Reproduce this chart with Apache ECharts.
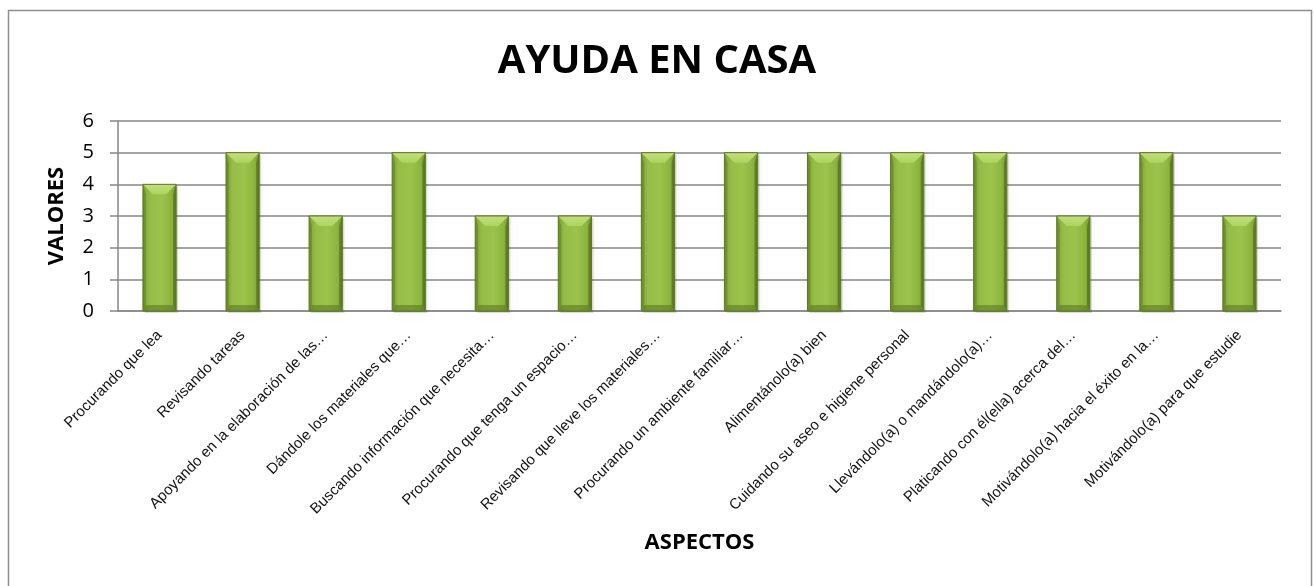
<!DOCTYPE html>
<html>
<head>
<meta charset="utf-8">
<script src="https://cdn.jsdelivr.net/npm/echarts@6/dist/echarts.min.js"></script>
<style>
html,body{margin:0;padding:0;background:#fff;}
#chart{width:1314px;height:586px;}
</style>
</head>
<body>
<div id="chart"></div>
<script>
const categories = [
  "Procurando que lea",
  "Revisando tareas",
  "Apoyando en la elaboración de las…",
  "Dándole los materiales que…",
  "Buscando información que necesita…",
  "Procurando que tenga un espacio…",
  "Revisando que lleve los materiales…",
  "Procurando un ambiente familiar…",
  "Alimentánolo(a) bien",
  "Cuidando su aseo e higiene personal",
  "Llevándolo(a) o mandándolo(a)…",
  "Platicando con él(ella) acerca del…",
  "Motivándolo(a) hacia el éxito en la…",
  "Motivándolo(a) para que estudie"
];
const values = [4, 5, 3, 5, 3, 3, 5, 5, 5, 5, 5, 3, 5, 3];
const yTicks = [0, 1, 2, 3, 4, 5, 6];

const chart = echarts.init(document.getElementById('chart'), null, {renderer: 'canvas'});

function renderBar(params, api) {
  const idx = api.value(0);
  const val = api.value(1);
  const top = api.coord([idx, val]);
  const base = api.coord([idx, 0]);
  const w = api.size([1, 0])[0] * 0.4;
  const x0 = top[0] - w / 2, x1 = top[0] + w / 2;
  const y0 = top[1], y1 = base[1];
  const h = y1 - y0;
  const b = Math.min(10, h / 3);
  const bb = Math.min(6, h / 4);
  const side = 3;
  const G = echarts.graphic;
  return {
    type: 'group',
    children: [
      { // shadow
        type: 'rect',
        shape: {x: x0 + 2, y: y0 + 2, width: w, height: h},
        style: {fill: 'rgba(0,0,0,0.12)', shadowBlur: 6, shadowColor: 'rgba(0,0,0,0.35)'},
        silent: true
      },
      { // body
        type: 'rect',
        shape: {x: x0, y: y0, width: w, height: h},
        style: {
          fill: new G.LinearGradient(0, 0, 1, 0, [
            {offset: 0, color: '#7fa336'},
            {offset: 0.2, color: '#95bd47'},
            {offset: 0.55, color: '#9cc44c'},
            {offset: 0.85, color: '#8db43f'},
            {offset: 1, color: '#76982f'}
          ])
        }
      },
      { // left facet
        type: 'polygon',
        shape: {points: [[x0, y0], [x0 + side, y0 + b], [x0 + side, y1 - bb], [x0, y1]]},
        style: {fill: 'rgba(85,115,30,0.45)'}
      },
      { // right facet
        type: 'polygon',
        shape: {points: [[x1, y0], [x1 - side, y0 + b], [x1 - side, y1 - bb], [x1, y1]]},
        style: {fill: 'rgba(70,95,22,0.55)'}
      },
      { // bottom facet
        type: 'polygon',
        shape: {points: [[x0, y1], [x1, y1], [x1 - side, y1 - bb], [x0 + side, y1 - bb]]},
        style: {fill: 'rgba(80,108,28,0.5)'}
      },
      { // top bevel
        type: 'polygon',
        shape: {points: [[x0, y0], [x1, y0], [x1 - b, y0 + b], [x0 + b, y0 + b]]},
        style: {
          fill: new G.LinearGradient(0, 0, 0, 1, [
            {offset: 0, color: '#c2e07a'},
            {offset: 1, color: '#acd35f'}
          ])
        }
      },
      { // outline
        type: 'rect',
        shape: {x: x0, y: y0, width: w, height: h},
        style: {fill: 'none', stroke: '#5d7b22', lineWidth: 1}
      }
    ]
  };
}

chart.setOption({
  animation: false,
  graphic: [{
    type: 'rect', left: 6, top: 8, silent: true,
    shape: {width: 1303, height: 600},
    style: {fill: 'none', stroke: '#8e8e8e', lineWidth: 1.5}
  }],
  title: {
    text: 'AYUDA EN CASA',
    left: 'center',
    top: 37,
    textStyle: {fontFamily: 'Open Sans', fontWeight: 'bold', fontSize: 40, color: '#000'}
  },
  grid: {left: 118, right: 33, top: 121, bottom: 275},
  xAxis: {
    type: 'category',
    data: categories,
    name: 'ASPECTOS',
    nameLocation: 'middle',
    nameGap: 221,
    nameTextStyle: {fontFamily: 'Open Sans', fontWeight: 'bold', fontSize: 22, color: '#000'},
    axisLine: {lineStyle: {color: '#868686', width: 1.5}},
    axisTick: {show: false},
    axisLabel: {
      interval: 0, rotate: 45, margin: 22,
      fontFamily: 'Liberation Sans', fontSize: 15, color: '#111'
    }
  },
  yAxis: {
    type: 'value',
    min: yTicks[0], max: yTicks[yTicks.length - 1], interval: 1,
    name: 'VALORES',
    nameLocation: 'middle',
    nameGap: 50,
    nameTextStyle: {fontFamily: 'Open Sans', fontWeight: 'bold', fontSize: 22, color: '#000'},
    axisLine: {show: true, lineStyle: {color: '#868686', width: 1.5}},
    axisTick: {show: true, length: 8, lineStyle: {color: '#868686', width: 1.5}},
    splitLine: {lineStyle: {color: '#868686', width: 1.5}},
    axisLabel: {margin: 24, fontFamily: 'Open Sans', fontSize: 20, color: '#000'}
  },
  series: [{
    type: 'custom',
    renderItem: renderBar,
    encode: {x: 0, y: 1},
    data: values.map((v, i) => [i, v]),
    z: 3
  }]
});
</script>
</body>
</html>
